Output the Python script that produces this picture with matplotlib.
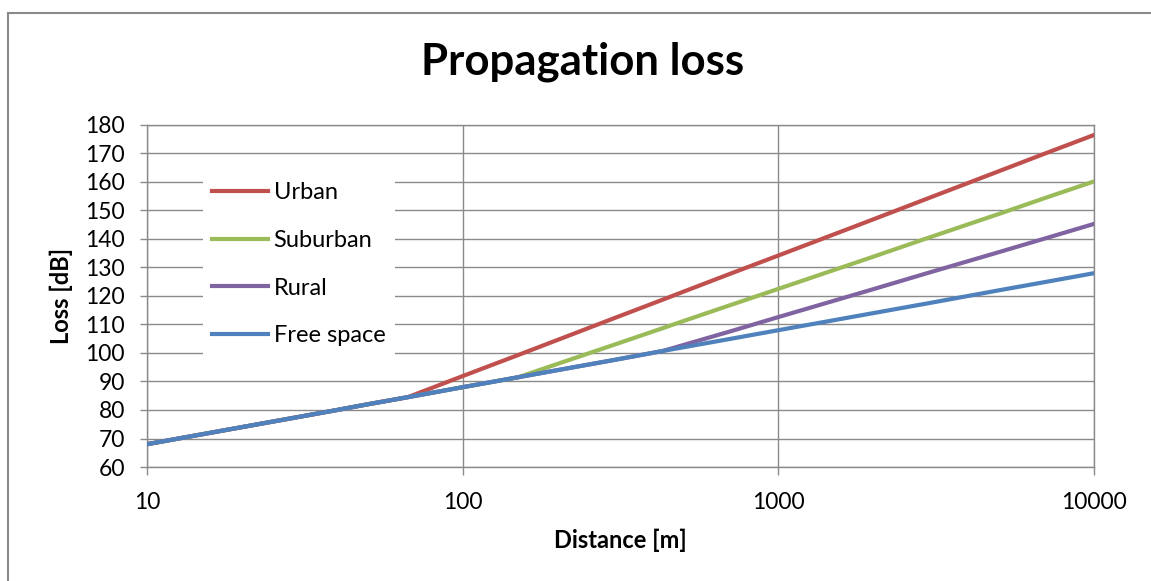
import matplotlib.pyplot as plt
from matplotlib.lines import Line2D
from matplotlib.ticker import NullLocator

# distance in metres, loss in dB
distance = [10, 20, 30, 40, 50, 67, 100, 150, 200, 300, 430, 500, 700, 1000, 2000, 3000, 5000, 7000, 10000]
free_space = [68.0, 74.0, 77.5, 80.0, 82.0, 84.5, 88.0, 91.5, 94.0, 97.5, 100.7, 102.0, 104.9, 108.0, 114.0, 117.5, 122.0, 124.9, 128.0]
urban = [68.0, 74.0, 77.5, 80.0, 82.0, 84.5, 91.9, 99.3, 104.6, 112.1, 118.7, 121.5, 127.7, 134.2, 146.9, 154.4, 163.8, 170.0, 176.5]
suburban = [68.0, 74.0, 77.5, 80.0, 82.0, 84.5, 88.0, 91.5, 96.2, 102.8, 108.7, 111.2, 116.7, 122.5, 133.8, 140.5, 148.8, 154.4, 160.2]
rural = [68.0, 74.0, 77.5, 80.0, 82.0, 84.5, 88.0, 91.5, 94.0, 97.5, 100.7, 102.8, 107.5, 112.6, 122.4, 128.2, 135.4, 140.2, 145.3]

x_ticks = [10, 100, 1000, 10000]
y_ticks = list(range(60, 181, 10))

plt.rcParams['font.family'] = ['Lato', 'DejaVu Sans']
grey = '#8a8a8a'

W, H = 1151, 581
fig = plt.figure(figsize=(W / 100, H / 100), dpi=100)
ax = fig.add_axes([147 / W, 1 - 467 / H, (1094 - 147) / W, (467 - 125) / H])

ax.plot(distance, urban, color='#C0504D', lw=3, label='Urban', zorder=3)
ax.plot(distance, suburban, color='#9BBB59', lw=3, label='Suburban', zorder=3)
ax.plot(distance, rural, color='#8064A2', lw=3, label='Rural', zorder=3)
ax.plot(distance, free_space, color='#4F81BD', lw=3, label='Free space', zorder=4)

ax.set_xscale('log')
ax.set_xlim(10, 10000)
ax.set_ylim(60, 180)
ax.set_xticks(x_ticks)
ax.set_xticklabels([str(v) for v in x_ticks])
ax.xaxis.set_minor_locator(NullLocator())
ax.set_yticks(y_ticks)

ax.grid(True, color=grey, lw=1.0)
ax.set_axisbelow(True)
for s in ax.spines.values():
    s.set_color(grey)
    s.set_linewidth(1.0)

ax.tick_params(axis='y', direction='out', length=5, width=1, color=grey,
               labelsize=16.5, pad=11)
ax.tick_params(axis='x', direction='out', length=6, width=1, color=grey,
               labelsize=16.5, pad=12)

ax.set_xlabel('Distance [m]', fontsize=17, fontweight='bold', labelpad=11)
ax.set_ylabel('Loss [dB]', fontsize=17, fontweight='bold', labelpad=9)
fig.text(583 / W, 1 - 62 / H, 'Propagation loss', fontsize=31.5,
         fontweight='bold', ha='center', va='center')

leg = ax.legend(loc='upper left', bbox_to_anchor=(44 / 947, 1 - 36 / 342),
                fontsize=17, handlelength=2.35, handletextpad=0.25,
                labelspacing=1.13, borderpad=0.4, frameon=True,
                fancybox=False, framealpha=1, edgecolor='none',
                facecolor='white')
leg.set_zorder(5)

# outer chart border
fig.add_artist(Line2D([8 / W, 8 / W], [0, 1 - 13 / H], color=grey, lw=1.5))
fig.add_artist(Line2D([8 / W, 1], [1 - 13 / H, 1 - 13 / H], color=grey, lw=1.5))

fig.savefig('out.png', dpi=100)
